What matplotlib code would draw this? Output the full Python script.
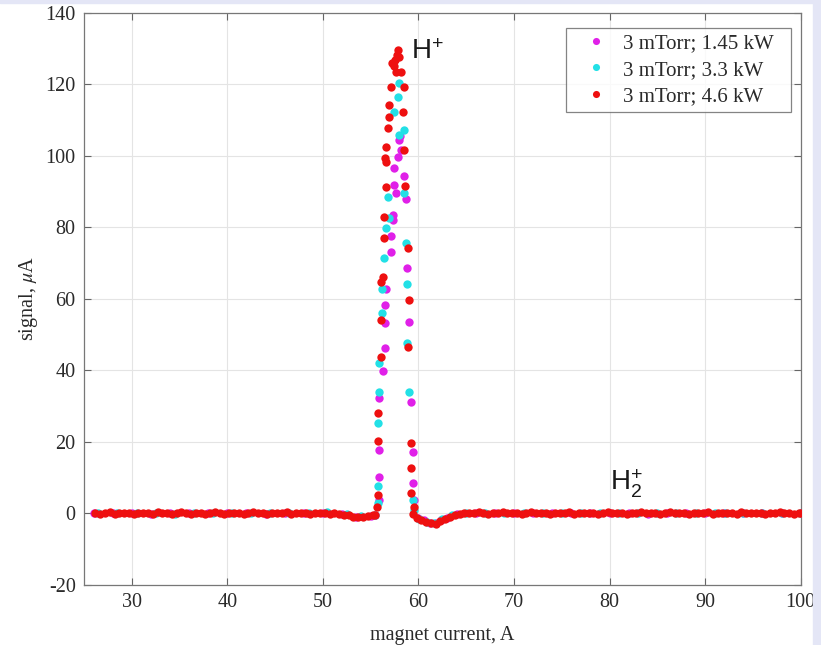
import matplotlib
matplotlib.use("Agg")
import matplotlib.pyplot as plt
from matplotlib.patches import Rectangle

plt.rcParams['axes.unicode_minus'] = False
plt.rcParams['mathtext.fontset'] = 'stix'
plt.rcParams['mathtext.default'] = 'it'

# ---------------- data ----------------
labels = ["3 mTorr; 1.45 kW", "3 mTorr; 3.3 kW", "3 mTorr; 4.6 kW"]
colors = ["#e020e8", "#22e0e6", "#ee1010"]

# magenta series, 1.45 kW
mag_base_x = [26.0, 28.0, 30.0, 32.0, 34.0, 36.0, 38.0, 40.0, 42.0, 44.0, 46.0, 48.0,
              50.0, 52.0, 53.5, 55.0, 55.5,
              60.0, 60.6, 61.2, 61.8, 62.4, 63.0, 64.0, 66.0, 68.0, 70.0, 72.0, 74.0,
              76.0, 78.0, 80.0, 82.0, 84.0, 86.0, 88.0, 90.0, 92.0, 94.0, 96.0, 98.0, 100.0]
mag_base_y = [0.1, 0.0, 0.2, -0.1, 0.1, 0.0, 0.2, 0.1, 0.0, -0.1, 0.1, 0.2,
              0.0, -0.3, -0.9, -0.7, -0.4,
              -1.4, -2.0, -2.6, -2.8, -1.9, -1.2, -0.2, 0.1, 0.0, 0.2, 0.1, 0.0,
              0.1, 0.2, 0.0, 0.1, -0.1, 0.2, 0.0, 0.1, 0.2, 0.0, 0.1, 0.0, 0.1]
mag_peak_x = [55.92, 55.92, 55.92, 55.92, 56.34, 56.51, 56.51, 56.51, 56.65, 57.14,
              57.14, 57.31, 57.31, 57.66, 57.48, 57.48, 57.83, 58.03, 58.18, 58.01,
              58.46, 58.71, 58.81, 59.05, 59.23, 59.47, 59.47, 59.57]
mag_peak_y = [3.7, 10.2, 17.7, 32.3, 39.9, 46.2, 53.3, 58.3, 62.7, 73.2,
              77.6, 82.0, 83.4, 89.6, 91.8, 96.6, 99.7, 105.5, 101.6, 104.4,
              94.3, 87.9, 68.6, 53.6, 31.2, 17.2, 8.5, 3.7]

# cyan series, 3.3 kW
cyan_base_x = [26.5, 28.5, 30.5, 32.5, 34.5, 36.5, 38.5, 40.5, 42.5, 44.5, 46.5, 48.5,
               50.45, 52.5, 54.0, 55.4,
               60.1, 60.9, 61.6, 62.5, 63.5, 65.0, 67.0, 69.0, 71.0, 73.0, 75.0, 77.0,
               79.0, 81.0, 83.0, 85.0, 87.0, 89.0, 91.0, 92.1, 94.0, 96.0, 98.0, 99.9]
cyan_base_y = [0.0, 0.1, 0.2, 0.0, -0.1, 0.1, 0.2, 0.0, 0.1, 0.2, 0.0, 0.1,
               0.3, -0.2, -0.8, -0.5,
               -1.6, -2.4, -2.7, -1.6, -0.6, 0.0, 0.1, 0.2, 0.0, 0.1, 0.2, 0.0,
               0.1, 0.0, 0.2, 0.1, 0.0, 0.1, 0.2, 0.2, 0.0, 0.1, 0.2, 0.0]
cyan_peak_x = [55.78, 55.81, 55.81, 55.92, 55.92, 56.23, 56.23, 56.37, 56.62, 56.96,
               56.79, 57.48, 57.83, 58.01, 58.01, 58.46, 58.44, 58.71, 58.81, 58.81,
               59.05, 59.47, 59.50]
cyan_peak_y = [3.0, 7.6, 25.3, 34.0, 42.1, 56.0, 62.7, 71.4, 79.8, 82.6,
               88.5, 112.3, 116.4, 120.4, 105.8, 107.2, 89.5, 75.7, 64.1, 47.6,
               33.9, 3.7, 1.0]

# red series, 4.6 kW
red_left_x = [26.2, 26.7, 27.2, 27.7, 28.2, 28.7, 29.2, 29.7, 30.2, 30.7,
              31.2, 31.7, 32.2, 32.7, 33.2, 33.7, 34.2, 34.7, 35.2, 35.7,
              36.2, 36.7, 37.2, 37.7, 38.2, 38.7, 39.2, 39.7, 40.2, 40.7,
              41.2, 41.7, 42.2, 42.7, 43.2, 43.7, 44.2, 44.7, 45.2, 45.7,
              46.2, 46.7, 47.2, 47.7, 48.2, 48.7, 49.2, 49.7, 50.2, 50.7,
              51.2, 51.7, 52.2, 52.7, 53.2, 53.7, 54.2, 54.7, 55.2, 55.5]
red_left_y = [0.2, -0.1, 0.1, 0.3, -0.2, 0.0, 0.2, 0.1, -0.3, 0.2,
              0.0, 0.1, -0.2, 0.3, 0.1, 0.0, -0.1, 0.2, 0.3, 0.0,
              -0.2, 0.1, 0.2, -0.1, 0.0, 0.3, 0.1, -0.2, 0.2, 0.0,
              0.1, -0.1, 0.2, 0.3, 0.0, 0.1, -0.2, 0.2, 0.0, 0.1,
              0.3, -0.1, 0.0, 0.2, 0.1, -0.2, 0.1, 0.0, 0.2, -0.1,
              0.0, -0.2, -0.4, -0.6, -0.9, -1.1, -1.0, -0.8, -0.6, -0.5]
red_peak_x = [55.68, 55.78, 55.74, 55.81, 56.13, 56.10, 56.13, 56.26, 56.37, 56.44,
              56.62, 56.62, 56.51, 56.62, 56.86, 56.96, 56.96, 57.14, 57.27, 57.48,
              57.56, 57.66, 57.72, 57.83, 57.95, 58.18, 58.46, 58.35, 58.46, 58.60,
              58.87, 59.05, 58.87, 59.23, 59.23, 59.23, 59.57, 59.47]
red_peak_y = [1.8, 5.1, 20.2, 28.1, 43.7, 54.1, 64.7, 66.1, 76.9, 83.0,
              91.4, 98.3, 99.4, 102.5, 107.8, 110.9, 114.2, 119.3, 126.0, 125.1,
              126.8, 123.5, 128.2, 129.6, 127.5, 123.5, 119.2, 112.3, 101.6, 91.6,
              74.2, 59.7, 46.5, 19.7, 12.7, 5.7, 1.8, -0.3]
red_right_x = [59.8, 60.3, 60.8, 61.3, 61.8, 62.3, 62.8, 63.3, 63.8, 64.3,
               64.8, 65.3, 65.8, 66.3, 66.8, 67.3, 67.8, 68.3, 68.8, 69.3,
               69.8, 70.3, 70.8, 71.3, 71.8, 72.3, 72.8, 73.3, 73.8, 74.3,
               74.8, 75.3, 75.8, 76.3, 76.8, 77.3, 77.8, 78.3, 78.8, 79.3,
               79.8, 80.3, 80.8, 81.3, 81.8, 82.3, 82.8, 83.3, 83.8, 84.3,
               84.8, 85.3, 85.8, 86.3, 86.8, 87.3, 87.8, 88.3, 88.8, 89.3,
               89.8, 90.3, 90.8, 91.3, 91.8, 92.3, 92.8, 93.3, 93.8, 94.3,
               94.8, 95.3, 95.8, 96.3, 96.8, 97.3, 97.8, 98.3, 98.8, 99.3,
               99.8, 100.0]
red_right_y = [-1.2, -1.8, -2.3, -2.8, -2.9, -2.2, -1.5, -0.9, -0.4, -0.1,
               0.1, 0.2, 0.0, 0.3, 0.1, -0.1, 0.2, 0.0, 0.3, 0.1,
               0.0, 0.2, -0.1, 0.1, 0.3, 0.0, 0.2, 0.1, -0.2, 0.2,
               0.0, 0.1, 0.3, -0.1, 0.2, 0.0, 0.1, 0.2, -0.2, 0.1,
               0.3, 0.0, 0.2, 0.1, -0.1, 0.2, 0.0, 0.3, 0.1, 0.0,
               0.2, -0.1, 0.1, 0.3, 0.0, 0.2, 0.1, -0.2, 0.2, 0.0,
               0.1, 0.3, -0.1, 0.2, 0.0, 0.1, 0.2, -0.1, 0.3, 0.0,
               0.1, 0.2, 0.0, -0.1, 0.2, 0.1, 0.3, 0.0, 0.1, -0.1,
               0.2, 0.0]

xticks = [30, 40, 50, 60, 70, 80, 90, 100]
yticks = [-20, 0, 20, 40, 60, 80, 100, 120, 140]

# ---------------- figure ----------------
fig = plt.figure(figsize=(8.21, 6.45), dpi=100)
fig.patch.set_facecolor("white")
# light frame around the screenshot
fig.patches.append(Rectangle((0, 0.995), 1, 0.005, transform=fig.transFigure,
                             color="#e4e6f6", zorder=0))
fig.patches.append(Rectangle((0.990, 0), 0.010, 1, transform=fig.transFigure,
                             color="#e4e6f6", zorder=0))

ax = fig.add_axes([0.1023, 0.0933, 0.8730, 0.8869])
ax.set_facecolor("white")

ms = 6.0
series = [
    (mag_base_x + mag_peak_x, mag_base_y + mag_peak_y),
    (cyan_base_x + cyan_peak_x, cyan_base_y + cyan_peak_y),
    (red_left_x + red_peak_x + red_right_x, red_left_y + red_peak_y + red_right_y),
]
for (xs, ys), c, lab in zip(series, colors, labels):
    ax.plot(xs, ys, linestyle="none", marker="o", ms=ms, mew=0, color=c,
            label=lab, zorder=3)

ax.set_xlim(25, 100)
ax.set_ylim(-20, 140)
ax.set_xticks(xticks)
ax.set_yticks(yticks)
ax.grid(True, color="#e4e4e4", linewidth=0.8)
ax.set_axisbelow(True)

tickfont = dict(family="Liberation Serif", size=14.5)
ax.set_xticklabels([str(v) for v in xticks], fontdict=tickfont, color="#2a2a2a")
ax.set_yticklabels([str(v) for v in yticks], fontdict=tickfont, color="#2a2a2a")
ax.tick_params(direction="in", length=5, width=0.8, color="#666666",
               top=True, right=True, pad=6)
for s in ax.spines.values():
    s.set_color("#777777")
    s.set_linewidth(0.9)

ax.set_xlabel("magnet current, A", family="Liberation Serif", size=14.5,
              color="#2a2a2a", labelpad=10)
ax.set_ylabel(r"signal, $\mu$A", family="Liberation Serif", size=14.5,
              color="#2a2a2a", labelpad=4)

ax.text(60.9, 129.0, r"H$^{\mathregular{+}}$", family="Liberation Sans",
        size=20, ha="center", va="center", color="#1a1a1a")
ax.text(81.8, 8.5, r"H$_{\mathregular{2}}^{\mathregular{+}}$", family="Liberation Sans",
        size=20, ha="center", va="center", color="#1a1a1a")

leg = ax.legend(loc="upper left", bbox_to_anchor=(0.6725, 0.80, 0.314, 0.174),
                mode="expand",
                prop=dict(family="Liberation Serif", size=15),
                frameon=True, fancybox=False, edgecolor="#666666",
                handlelength=2.3, handletextpad=0.15, borderpad=0.3,
                labelspacing=0.32, markerscale=0.85, borderaxespad=0)
leg.get_frame().set_linewidth(0.9)
for t in leg.get_texts():
    t.set_color("#2a2a2a")

fig.savefig("out.png", dpi=100)
